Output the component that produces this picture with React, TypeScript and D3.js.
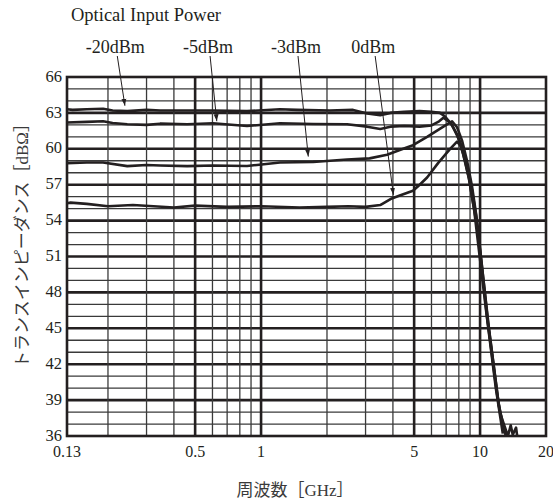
// Transimpedance vs frequency for four optical input power levels.
// Log frequency axis with a dense engineering-style grid.

import React, { useEffect, useRef } from 'react';
import * as d3 from 'd3';

const WIDTH = 553;
const HEIGHT = 500;
const M = { left: 67, right: 7, top: 77, bottom: 64 };

const X_TICKS = [0.13, 0.5, 1, 5, 10, 20];
const X_MAJOR_GRID = [0.5, 1, 5, 10];
const X_MINOR_GRID = [0.2, 0.3, 0.4, 0.6, 0.7, 0.8, 0.9, 2, 3, 4, 6, 7, 8, 9];
const Y_TICKS = [36, 39, 42, 45, 48, 51, 54, 57, 60, 63, 66];

// [GHz, dBΩ]
const pMinus20: [number, number][] = [
  [0.13, 63.3], [0.138, 63.25], [0.16, 63.3], [0.19, 63.35], [0.21, 63.2], [0.245, 63.15],
  [0.3, 63.25], [0.346, 63.2], [0.46, 63.2], [0.603, 63.2], [0.863, 63.15], [1.22, 63.3],
  [1.46, 63.25], [2.06, 63.2], [2.63, 63.25], [3.05, 62.95], [3.5, 62.8], [3.9, 63.0],
  [4.5, 63.1], [5.3, 63.15], [6.0, 63.1], [6.56, 63.0], [6.92, 62.7], [7.45, 62.0],
  [8.1, 60.6], [8.63, 59.0], [9.1, 57.0], [9.58, 54.5], [10.75, 46.0], [11.95, 39.5], [12.86, 36.3],
];
const pMinus5: [number, number][] = [
  [0.13, 62.2], [0.16, 62.25], [0.19, 62.3], [0.21, 62.15], [0.245, 62.05], [0.3, 62.0],
  [0.346, 62.1], [0.46, 62.05], [0.603, 62.13], [0.863, 61.9], [1.22, 62.13], [1.73, 62.07],
  [2.47, 62.05], [3.05, 61.85], [3.5, 61.66], [3.9, 61.85], [4.5, 61.9], [5.3, 61.85],
  [6.0, 61.95], [6.5, 62.3], [6.8, 62.6], [7.3, 62.2], [7.85, 61.2], [8.36, 59.6],
  [8.9, 57.5], [9.38, 55.0], [10.65, 46.5], [11.8, 40.0], [12.7, 36.2],
];
const pMinus3: [number, number][] = [
  [0.13, 58.8], [0.16, 58.85], [0.19, 58.85], [0.245, 58.55], [0.3, 58.65], [0.346, 58.6],
  [0.46, 58.55], [0.603, 58.6], [0.863, 58.56], [0.958, 58.65], [1.22, 58.85], [1.73, 58.9],
  [2.47, 59.1], [3.13, 59.2], [3.76, 59.5], [4.3, 59.9], [4.94, 60.3], [5.73, 61.0],
  [6.8, 61.85], [7.45, 62.3], [7.85, 61.8], [8.27, 60.7], [8.72, 59.0], [9.2, 56.8],
  [9.69, 54.0], [10.87, 45.5], [12.2, 38.5], [13.1, 36.0],
];
const p0: [number, number][] = [
  [0.13, 55.45], [0.135, 55.5], [0.16, 55.4], [0.2, 55.2], [0.26, 55.3], [0.4, 55.1],
  [0.5, 55.25], [0.7, 55.15], [1.0, 55.2], [1.5, 55.1], [2.0, 55.15], [2.5, 55.2],
  [3.0, 55.15], [3.5, 55.3], [3.9, 55.8], [4.3, 56.1], [4.94, 56.5], [5.3, 57.0],
  [5.73, 57.6], [6.43, 58.8], [7.3, 60.0], [7.85, 60.6], [8.19, 60.2], [8.53, 59.0],
  [8.9, 57.5], [9.28, 55.5], [9.79, 53.0], [10.98, 45.0], [12.3, 38.0], [13.4, 36.0],
  [13.8, 36.9], [14.1, 36.1], [14.6, 36.7], [14.9, 35.5],
];
const SERIES = [pMinus20, pMinus5, pMinus3, p0];

// label, label centre (GHz), arrow tip (GHz, dBΩ)
const ANNOTATIONS = [
  { label: '-20dBm', f: 0.216, tipF: 0.239, tipDb: 63.6 },
  { label: '-5dBm', f: 0.573, tipF: 0.628, tipDb: 62.3 },
  { label: '-3dBm', f: 1.444, tipF: 1.643, tipDb: 59.35 },
  { label: '0dBm', f: 3.25, tipF: 4.02, tipDb: 56.15 },
];

const INK = '#231f20';
const SERIF = '"Liberation Serif", "Times New Roman", serif';
const JP = '"Liberation Serif", "Noto Sans CJK JP", serif';

const App = () => {
  const svgRef = useRef<SVGSVGElement>(null);

  useEffect(() => {
    const svg = d3.select(svgRef.current).attr('width', WIDTH).attr('height', HEIGHT);
    svg.selectAll('*').remove();
    svg.append('rect').attr('width', WIDTH).attr('height', HEIGHT).attr('fill', 'white');

    const x = d3.scaleLog().domain([0.13, 20]).range([M.left, WIDTH - M.right]);
    const y = d3.scaleLinear().domain([36, 66]).range([HEIGHT - M.bottom, M.top]);
    const [x0, x1] = x.range();
    const [y0, y1] = y.range();

    const defs = svg.append('defs');
    defs.append('clipPath').attr('id', 'plot-clip')
      .append('rect').attr('x', x0).attr('y', y1).attr('width', x1 - x0).attr('height', y0 - y1);
    defs.append('marker').attr('id', 'arrow').attr('viewBox', '0 0 10 10')
      .attr('refX', 10).attr('refY', 5).attr('markerWidth', 7).attr('markerHeight', 7)
      .attr('markerUnits', 'userSpaceOnUse').attr('orient', 'auto')
      .append('path').attr('d', 'M0,1.5 L10,5 L0,8.5 Z').attr('fill', INK);

    // Grid: every 1 dB thin, every 3 dB thick
    const hVals = d3.range(37, 66);
    svg.append('g').selectAll('line').data(hVals).enter().append('line')
      .attr('x1', x0).attr('x2', x1)
      .attr('y1', (d) => y(d)).attr('y2', (d) => y(d))
      .attr('stroke', (d) => ((d - 36) % 3 === 0 ? INK : '#3a3a3a'))
      .attr('stroke-width', (d) => ((d - 36) % 3 === 0 ? 2.6 : 1.3));

    svg.append('g').selectAll('line').data(X_MINOR_GRID).enter().append('line')
      .attr('x1', (d) => x(d)).attr('x2', (d) => x(d))
      .attr('y1', y1).attr('y2', y0)
      .attr('stroke', '#3a3a3a').attr('stroke-width', 1.3);
    svg.append('g').selectAll('line').data(X_MAJOR_GRID).enter().append('line')
      .attr('x1', (d) => x(d)).attr('x2', (d) => x(d))
      .attr('y1', y1).attr('y2', y0)
      .attr('stroke', INK).attr('stroke-width', 2.6);

    svg.append('rect')
      .attr('x', x0).attr('y', y1).attr('width', x1 - x0).attr('height', y0 - y1)
      .attr('fill', 'none').attr('stroke', INK).attr('stroke-width', 2.6);

    // Curves
    const line = d3.line<[number, number]>().x((d) => x(d[0])).y((d) => y(d[1]));
    svg.append('g').attr('clip-path', 'url(#plot-clip)')
      .selectAll('path').data(SERIES).enter().append('path')
      .attr('d', (d) => line(d))
      .attr('fill', 'none').attr('stroke', INK)
      .attr('stroke-width', 2.6).attr('stroke-linejoin', 'round');

    // Tick labels
    svg.append('g').selectAll('text').data(Y_TICKS).enter().append('text')
      .attr('x', x0 - 5).attr('y', (d) => y(d)).attr('dy', '0.28em')
      .attr('text-anchor', 'end').attr('font-family', SERIF).attr('font-size', 16.5)
      .attr('fill', INK).text((d) => d);
    svg.append('g').selectAll('text').data(X_TICKS).enter().append('text')
      .attr('x', (d) => x(d)).attr('y', y0 + 21)
      .attr('text-anchor', 'middle').attr('font-family', SERIF).attr('font-size', 16)
      .attr('fill', INK).text((d) => d);

    // Annotations
    svg.append('text').attr('x', 71).attr('y', 21)
      .attr('font-family', SERIF).attr('font-size', 18.5).attr('fill', INK)
      .text('Optical Input Power');

    const labelY = 53;
    ANNOTATIONS.forEach((a) => {
      svg.append('text').attr('x', x(a.f)).attr('y', labelY)
        .attr('text-anchor', 'middle').attr('font-family', SERIF).attr('font-size', 18)
        .attr('fill', INK).text(a.label);
      svg.append('line')
        .attr('x1', x(a.f) + 2).attr('y1', labelY + 3)
        .attr('x2', x(a.tipF)).attr('y2', y(a.tipDb))
        .attr('stroke', INK).attr('stroke-width', 1)
        .attr('marker-end', 'url(#arrow)');
    });

    // Axis titles
    svg.append('text').attr('x', 295).attr('y', y0 + 60)
      .attr('text-anchor', 'middle').attr('font-family', JP).attr('font-size', 17)
      .attr('fill', '#3a3a3a').text('周波数［GHz］');
    svg.append('text')
      .attr('transform', `translate(28,${(y0 + y1) / 2 - 15}) rotate(-90)`)
      .attr('text-anchor', 'middle').attr('font-family', JP).attr('font-size', 17)
      .attr('fill', '#3a3a3a').text('トランスインピーダンス［dBΩ］');
  }, []);

  return <svg ref={svgRef} style={{ position: 'absolute', left: 0, top: 0 }} />;
};

export default App;
